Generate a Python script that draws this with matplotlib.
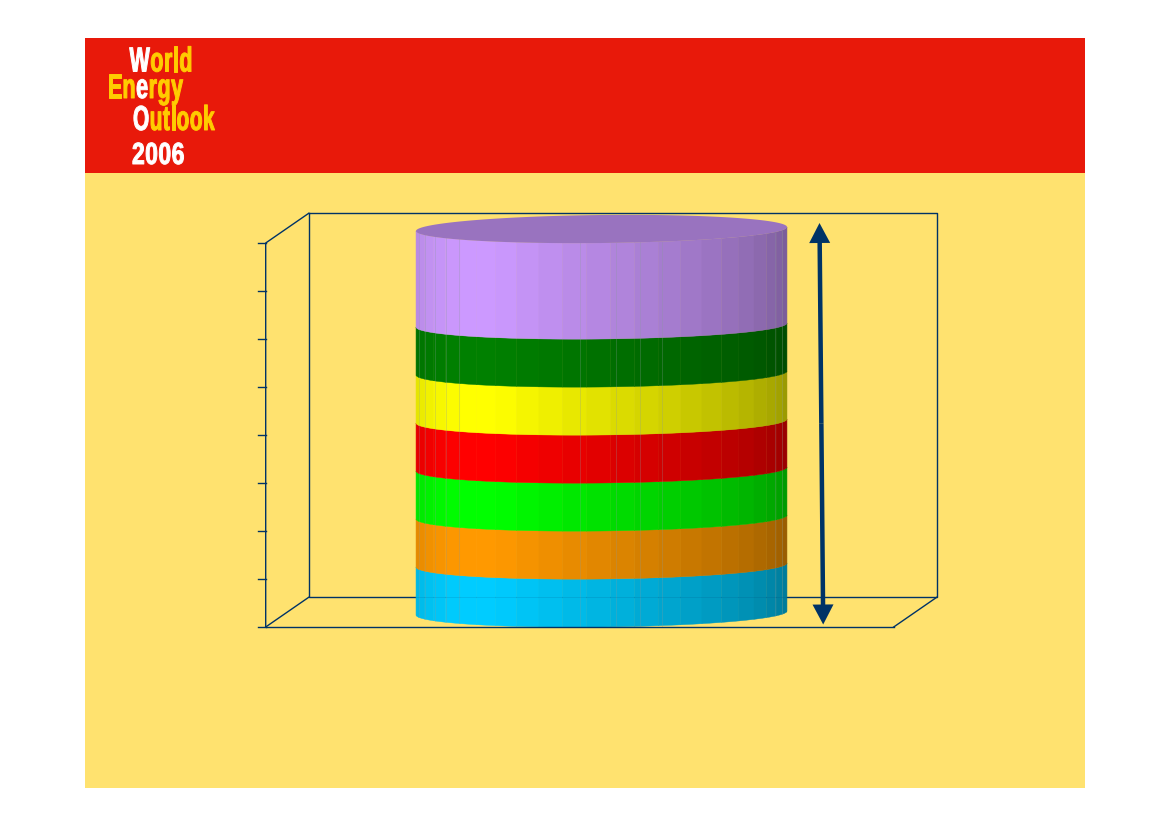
import numpy as np
import matplotlib
matplotlib.use('Agg')  # Headless backend
import matplotlib.pyplot as plt
import matplotlib.patheffects as pe
from matplotlib.patches import Polygon, Rectangle, FancyArrow
from matplotlib.transforms import Affine2D

# stacked values, bottom to top
layer_values = [1, 1, 1, 1, 1, 1, 2]
layer_colors = ['#00CCFF', '#FF9900', '#00FF00', '#FF0000', '#FFFF00', '#008000', '#CC99FF']
y_ticks = [0, 1, 2, 3, 4, 5, 6, 7, 8]

line_col = '#003366'
panel_col = '#FFE26F'
band_col = '#E8190A'

# logo lines: text, left, baseline, letter colours, font size, horizontal squeeze
logo_lines = [
    ('World', 129.5, 71.5, 'wyyyy', 25, 0.62),
    ('Energy', 107.5, 98, 'yywyyy', 25, 0.62),
    ('Outlook', 133, 130, 'wyyyyyy', 25, 0.6),
    ('2006', 132, 164, 'wwww', 22, 0.75),
]

# thin seams on the cylinder, pixel columns
seam_x = [419, 425, 434.5, 445.5, 459, 580, 616, 639.5, 662, 775, 782]

fig = plt.figure(figsize=(11.69, 8.27), dpi=100)
ax = fig.add_axes([0, 0, 1, 1])
ax.set_xlim(0, 1169)
ax.set_ylim(827, 0)
ax.axis('off')

ax.add_patch(Rectangle((85, 38), 1000, 750, color=panel_col, lw=0))
ax.add_patch(Rectangle((85, 38), 1000, 134.5, color=band_col, lw=0))


def val_y(v):
    # value -> pixel row on the front of the chart
    return 627 - v * (627 - 243) / 8


# chart frame
dx, dy = 43, 29.7
x0, x1 = 265.7, 893.7
yb, yt = val_y(0), val_y(8)
lw = 1.0
ax.plot([x0 + dx, x1 + dx, x1 + dx, x0 + dx, x0 + dx],
        [yt - dy, yt - dy, yb - dy, yb - dy, yt - dy], color=line_col, lw=lw, zorder=2)
ax.plot([x0, x0, x0 + dx], [yb, yt, yt - dy], color=line_col, lw=lw, zorder=2)
ax.plot([x0 + dx, x0], [yb - dy, yb], color=line_col, lw=lw, zorder=2)
ax.plot([x1, x1 + dx], [yb, yb - dy], color=line_col, lw=lw, zorder=2)
ax.plot([x0, x1], [yb, yb], color=line_col, lw=lw, zorder=6)
for t in y_ticks:
    ax.plot([x0 - 8, x0], [val_y(t), val_y(t)], color=line_col, lw=lw, zorder=2)

# cylinder
cx, rx = 601.5, 185.5
ry, tilt = 14, 2
angles = np.radians(np.arange(2.8, 180, 7.5))
edges = np.concatenate([[0], angles, [np.pi]])


def front_y(v, x):
    u = (x - cx) / rx
    return val_y(v) - ry + ry * np.sqrt(np.clip(1 - u ** 2, 0, 1)) - tilt * u


def shade(theta):
    # brightest facets left of centre, falling off to both edges
    deg = np.degrees(theta)
    if deg < 40:
        return 1 - (40 - deg) * 0.12 / 40
    if deg < 55:
        return 1
    return 1 - (deg - 55) * 0.42 / 125


def scaled(col, f):
    return tuple(c * f for c in matplotlib.colors.to_rgb(col))


bottoms = np.concatenate([[0], np.cumsum(layer_values)[:-1]])
for val, bot, col in zip(layer_values, bottoms, layer_colors):
    for a, b in zip(edges[:-1], edges[1:]):
        xs = np.linspace(cx - rx * np.cos(a), cx - rx * np.cos(b), 6)
        top = front_y(bot + val, xs)
        low = front_y(bot, xs)
        c = scaled(col, shade((a + b) / 2))
        ax.add_patch(Polygon(np.vstack([np.c_[xs, low], np.c_[xs[::-1], top[::-1]]]),
                             closed=True, fc=c, ec=c, lw=0.3, zorder=3))

total = sum(layer_values)
for x in seam_x:
    ax.plot([x, x], [front_y(total, x), front_y(0, x)], color='#8A9A9A', lw=0.6, alpha=0.32, zorder=4)
# back floor line shows faintly through
ax.plot([cx - rx, cx + rx], [yb - dy, yb - dy], color=line_col, lw=0.7, alpha=0.12, zorder=4)

# top lid
th = np.linspace(0, 2 * np.pi, 200)
lid_y = val_y(total) - ry + ry * np.sin(th) - tilt * np.cos(th)
ax.add_patch(Polygon(np.c_[cx + rx * np.cos(th), lid_y], closed=True,
                     fc=scaled(layer_colors[-1], 0.75), ec='none', zorder=5))

# double arrow, one shaft with a head on each end
ax_top, ay_top, ax_bot, ay_bot = 819.5, 223, 823.2, 624.5
mx, my = (ax_top + ax_bot) / 2, (ay_top + ay_bot) / 2
for ex, ey in [(ax_top, ay_top), (ax_bot, ay_bot)]:
    ax.add_patch(FancyArrow(mx, my, ex - mx, ey - my, width=4.5, head_width=21, head_length=20,
                            length_includes_head=True, fc=line_col, ec='none', zorder=6))


class Squeeze(pe.AbstractPathEffect):
    # narrows a letter about its own left edge and thickens it, the logo face is condensed and heavy
    def __init__(self, x, sx):
        super().__init__()
        self.x, self.sx = x, sx

    def draw_path(self, renderer, gc, tpath, affine, rgbFace=None):
        squeeze = Affine2D().translate(-self.x, 0).scale(self.sx, 1).translate(self.x, 0)
        gc0 = renderer.new_gc()
        gc0.copy_properties(gc)
        gc0.set_linewidth(0.7)
        gc0.set_foreground(rgbFace)
        renderer.draw_path(gc0, tpath, affine + squeeze, rgbFace)
        gc0.restore()


# logo, one letter at a time because the colours change inside a word
renderer = fig.canvas.get_renderer()
for word, x, base, cols, size, sx in logo_lines:
    pos = x
    for ch, c in zip(word, cols):
        t = ax.text(pos, base, ch, color='white' if c == 'w' else '#FFCC00',
                    fontsize=size, fontweight='bold', family='Liberation Sans',
                    ha='left', va='baseline', zorder=7)
        w = t.get_window_extent(renderer).width
        t.set_path_effects([Squeeze(pos, sx)])
        pos += w * sx + 0.5

fig.savefig('out.png', dpi=100)
plt.close(fig)
